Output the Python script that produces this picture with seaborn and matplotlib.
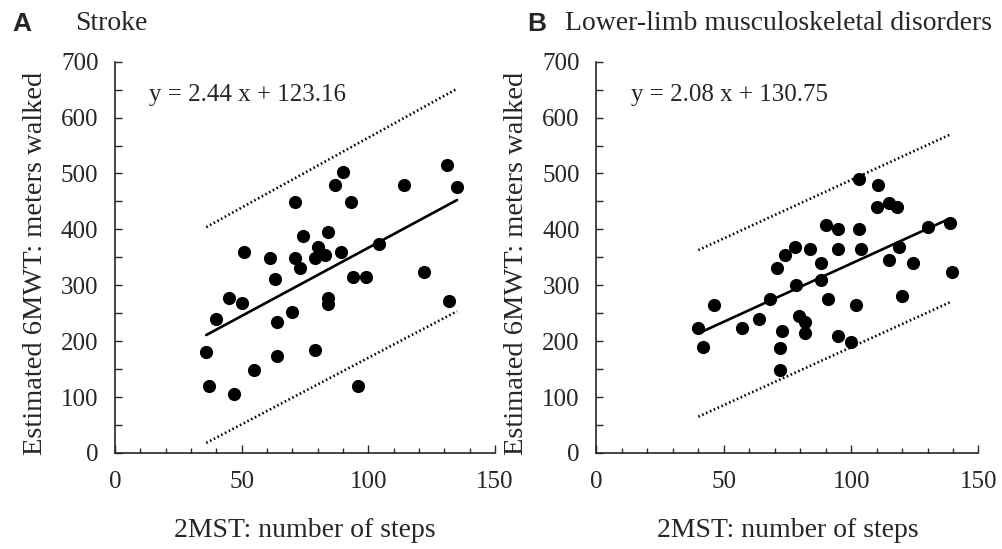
import numpy as np
import pandas as pd
import matplotlib
matplotlib.use("Agg")
import matplotlib.pyplot as plt
import seaborn as sns
from matplotlib.ticker import MultipleLocator

# Panel A: stroke
stroke_steps = [36, 37, 40, 45, 47, 50, 51, 55, 61, 63, 64, 64, 70, 71, 71, 73, 74, 79,
                80, 79, 83, 84, 84, 84, 87, 89, 90, 93, 94, 96, 99, 104, 114, 122, 131, 132, 135]
stroke_6mwt = [180, 119, 239, 278, 105, 269, 359, 148, 349, 312, 234, 174, 253, 449, 349, 330, 389, 349,
               369, 184, 354, 395, 278, 267, 479, 359, 502, 449, 315, 119, 315, 374, 479, 324, 516, 272, 475]
stroke_fit = (2.44, 123.16)
stroke_range = [36, 135]
stroke_band = [193, 199]

# Panel B: lower-limb musculoskeletal disorders
lower_steps = [40, 42, 46, 57, 64, 68, 71, 72, 72, 73, 74, 78, 78.5, 79.5, 82, 82, 84, 88, 88, 90, 91,
               95, 95, 95, 100, 102, 103, 103, 104, 110, 110.5, 115, 115, 118, 119, 120, 124.5, 130, 139, 139.5]
lower_6mwt = [224, 189, 265, 224, 239, 276, 330, 188, 148, 219, 354, 369, 300, 245, 235, 214, 364, 339, 310, 408, 275,
              400, 365, 209, 199, 265, 490, 400, 365, 440, 479, 448, 345, 440, 369, 280, 339, 405, 411, 324]
lower_fit = (2.08, 130.75)
lower_range = [40, 139]
lower_band = [149, 150]

sns.set_style("ticks")
plt.rcParams['font.family'] = ['Liberation Serif', 'DejaVu Serif']
plt.rcParams['axes.linewidth'] = 1.2


def draw_panel(ax, steps, mwt, fit, xr, band, eq_text):
    df = pd.DataFrame({'steps': steps, 'mwt': mwt})
    sns.scatterplot(data=df, x='steps', y='mwt', ax=ax, color='black', s=90,
                    edgecolor='black', linewidth=0, zorder=3)
    slope, icpt = fit
    xs = np.array(xr, dtype=float)
    ys = slope * xs + icpt
    lines = pd.DataFrame({'x': np.concatenate([xs, xs, xs]),
                          'y': np.concatenate([ys, ys + np.array(band), ys - np.array(band)]),
                          'kind': ['fit'] * 2 + ['upper'] * 2 + ['lower'] * 2})
    sns.lineplot(data=lines[lines.kind == 'fit'], x='x', y='y', ax=ax, color='black', lw=1.9)
    for k in ['upper', 'lower']:
        sns.lineplot(data=lines[lines.kind == k], x='x', y='y', ax=ax, color='black',
                     lw=1.9, linestyle=(0, (0.6, 1.0)))
    ax.set_xlim(0, 150)
    ax.set_ylim(0, 700)
    ax.xaxis.set_major_locator(MultipleLocator(50))
    ax.xaxis.set_minor_locator(MultipleLocator(10))
    ax.yaxis.set_major_locator(MultipleLocator(100))
    ax.yaxis.set_minor_locator(MultipleLocator(50))
    ax.tick_params(axis='x', which='major', direction='in', length=6, width=1.0, labelsize=18, pad=13)
    ax.tick_params(axis='x', which='minor', direction='in', length=3.5, width=1.0)
    ax.tick_params(axis='y', which='both', direction='in', length=5, width=1.0, labelsize=18, pad=12)
    sns.despine(ax=ax)
    ax.set_xlabel('2MST: number of steps', fontsize=20)
    ax.set_ylabel('Estimated 6MWT: meters walked', fontsize=20.5)
    ax.xaxis.label.set_va('center')
    ax.yaxis.label.set_va('center')
    ax.xaxis.set_label_coords(0.5, -0.197)
    ax.yaxis.set_label_coords(-0.21, 0.485)
    ax.text(0.09, 0.915, eq_text, transform=ax.transAxes, fontsize=18, ha='left', va='center')


fig = plt.figure(figsize=(10.03, 5.49), dpi=100)
axA = fig.add_axes([0.1147, 0.1749, 0.3789, 0.7128])
axB = fig.add_axes([0.5947, 0.1749, 0.3808, 0.7128])

draw_panel(axA, stroke_steps, stroke_6mwt, stroke_fit, stroke_range, stroke_band, 'y = 2.44 x + 123.16')
draw_panel(axB, lower_steps, lower_6mwt, lower_fit, lower_range, lower_band, 'y = 2.08 x + 130.75')

fig.text(12 / 1003, 1 - 24 / 549, 'A', fontsize=19, fontweight='bold', family='Liberation Sans', va='center')
fig.text(75 / 1003, 1 - 24 / 549, 'Stroke', fontsize=20, va='center')
fig.text(527 / 1003, 1 - 24 / 549, 'B', fontsize=19, fontweight='bold', family='Liberation Sans', va='center')
fig.text(565 / 1003, 1 - 24 / 549, 'Lower-limb musculoskeletal disorders', fontsize=20, va='center')

fig.savefig('out.png', dpi=100)
